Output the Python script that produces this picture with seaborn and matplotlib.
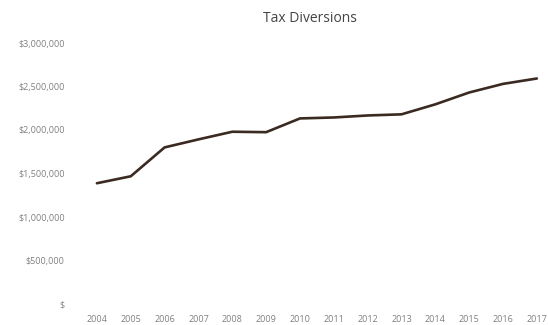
import matplotlib
matplotlib.use("Agg")
import matplotlib.pyplot as plt
import seaborn as sns
import pandas as pd

years = [2004, 2005, 2006, 2007, 2008, 2009, 2010, 2011, 2012, 2013, 2014, 2015, 2016, 2017]
values = [1388000, 1468000, 1800000, 1892000, 1980000, 1975000, 2133000, 2144000,
          2167000, 2180000, 2295000, 2431000, 2530000, 2592000]
ytick_vals = [0, 500000, 1000000, 1500000, 2000000, 2500000, 3000000]
ytick_labels = ["$", "$500,000", "$1,000,000", "$1,500,000", "$2,000,000", "$2,500,000", "$3,000,000"]
title = "Tax Diversions"

df = pd.DataFrame({"year": years, "value": values})

sns.set_style("white")
plt.rcParams["font.family"] = ["Open Sans", "DejaVu Sans"]

fig = plt.figure(figsize=(5.48, 3.25), dpi=100)
ax = fig.add_axes([80 / 548, 1 - 304 / 325, (547 - 80) / 548, (304 - 43) / 325])
sns.lineplot(data=df, x="year", y="value", ax=ax, color="#3b2a22", linewidth=1.9)

ax.set_xlim(2003.5, 2017.3)
ax.set_ylim(0, 3000000)
ax.set_yticks(ytick_vals)
ax.set_yticklabels(ytick_labels, fontsize=6.5, color="#808080")
ax.set_xticks(years)
ax.set_xticklabels([str(y) for y in years], fontsize=6.5, color="#808080")
ax.tick_params(axis="y", length=0, pad=11)
ax.tick_params(axis="x", length=0, pad=8)
ax.set_xlabel("")
ax.set_ylabel("")
sns.despine(ax=ax, left=True, bottom=True)
fig.text(310 / 548, 1 - 18 / 325, title, ha="center", va="center", fontsize=10, color="#444444")

fig.savefig("out.png", dpi=100)
